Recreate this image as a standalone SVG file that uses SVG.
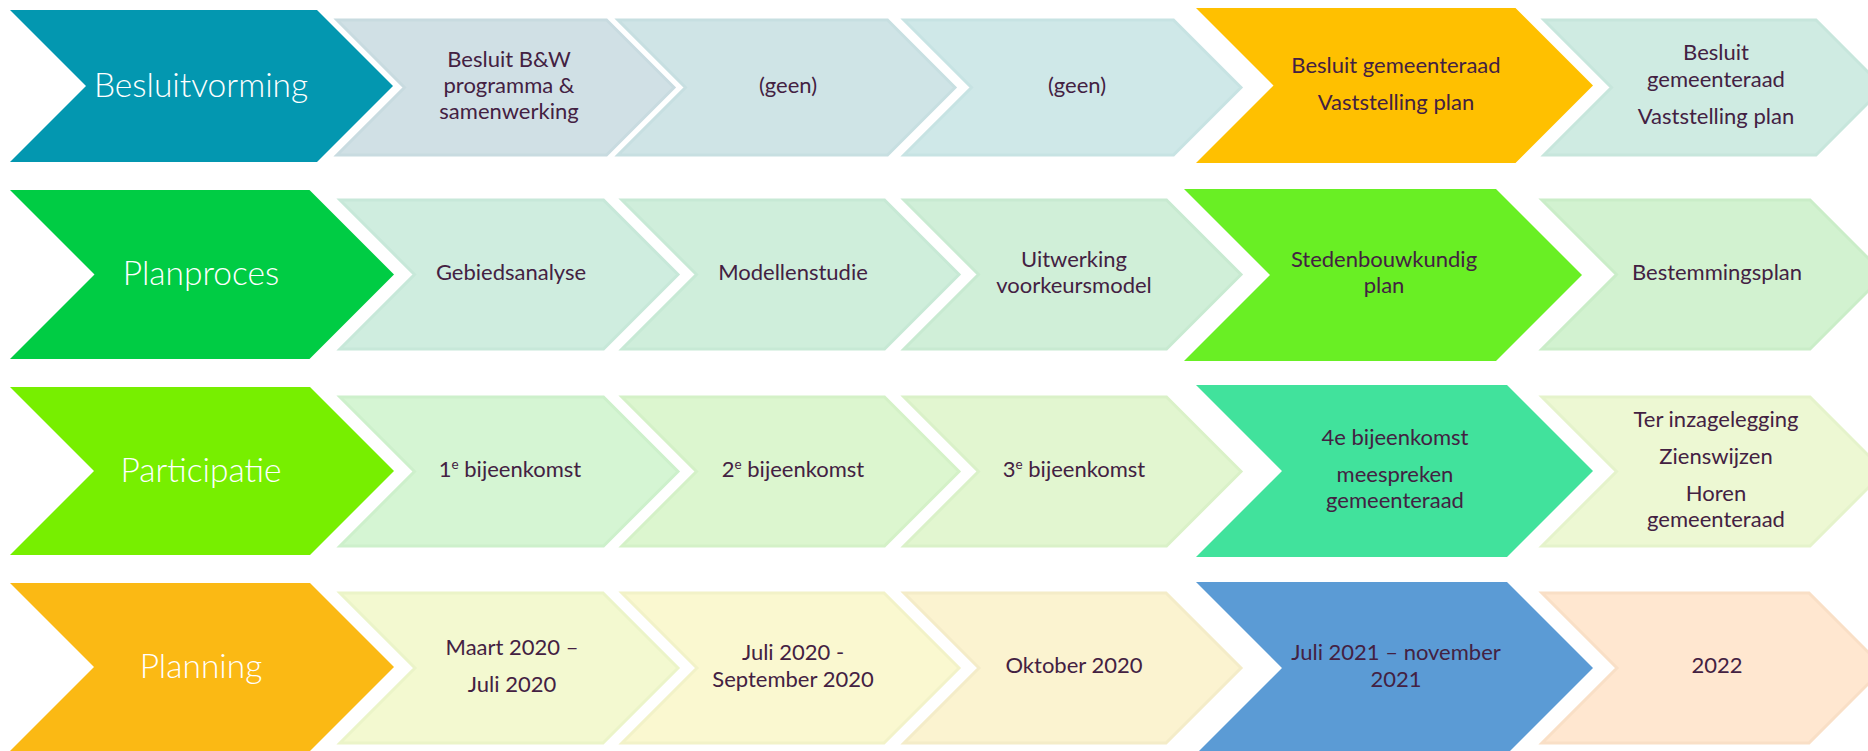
<svg xmlns="http://www.w3.org/2000/svg" width="1868" height="751" viewBox="0 0 1868 751">
<style>
.hd text{font-family:Lato,"Open Sans","Liberation Sans",sans-serif;font-weight:300;font-size:33.5px;fill:#ffffff;text-anchor:middle}
.bx text{font-family:Lato,"Open Sans","Liberation Sans",sans-serif;font-size:22px;fill:#432142;text-anchor:middle}
.bx polygon.lt{stroke-width:3;stroke-linejoin:miter}
.sup{font-size:13.5px}
</style>
<rect width="1868" height="751" fill="#ffffff"/>
<g id="connectors"/>
<!-- Row 1 -->
<g id="r1-head" class="hd"><polygon points="10,10 317,10 393,86 317,162 10,162 86,86" fill="#0397B0"/><text x="201" y="97">Besluitvorming</text></g>
<g id="r1-b2" class="bx"><polygon class="lt" points="337,20 606.5,20 674,87.5 606.5,155 337,155 404.5,87.5" fill="#D0E0E5" stroke="#C8DBE0"/><text x="509" y="67">Besluit B&amp;W</text><text x="509" y="93">programma &amp;</text><text x="509" y="119">samenwerking</text></g>
<g id="r1-b3" class="bx"><polygon class="lt" points="618,20 887.5,20 955,87.5 887.5,155 618,155 685.5,87.5" fill="#CFE4E6" stroke="#C7DFE1"/><text x="788" y="93">(geen)</text></g>
<g id="r1-b4" class="bx"><polygon class="lt" points="904,20 1173.5,20 1241,87.5 1173.5,155 904,155 971.5,87.5" fill="#CFE8E8" stroke="#C7E3E3"/><text x="1077" y="93">(geen)</text></g>
<g id="r1-b5" class="bx"><polygon points="1196,8 1515.5,8 1593,85.5 1515.5,163 1196,163 1273.5,85.5" fill="#FFC000"/><text x="1396" y="73">Besluit gemeenteraad</text><text x="1396" y="110">Vaststelling plan</text></g>
<g id="r1-b6" class="bx"><polygon class="lt" points="1544,20 1816,20 1883.5,87.5 1816,155 1544,155 1611.5,87.5" fill="#CFEBE2" stroke="#C7E6DC"/><text x="1716" y="60">Besluit</text><text x="1716" y="87">gemeenteraad</text><text x="1716" y="124">Vaststelling plan</text></g>
<!-- Row 2 -->
<g id="r2-head" class="hd"><polygon points="10,190 309.5,190 394,274.5 309.5,359 10,359 94.5,274.5" fill="#00CC44"/><text x="201" y="285">Planproces</text></g>
<g id="r2-b2" class="bx"><polygon class="lt" points="340,200 603.5,200 678,274.5 603.5,349 340,349 414.5,274.5" fill="#CFEDDF" stroke="#C7E8D9"/><text x="511" y="280">Gebiedsanalyse</text></g>
<g id="r2-b3" class="bx"><polygon class="lt" points="622,200 884.5,200 959,274.5 884.5,349 622,349 696.5,274.5" fill="#CFEEDB" stroke="#C7E9D5"/><text x="793" y="280">Modellenstudie</text></g>
<g id="r2-b4" class="bx"><polygon class="lt" points="904,200 1166.5,200 1241,274.5 1166.5,349 904,349 978.5,274.5" fill="#D0EFD8" stroke="#C8EAD1"/><text x="1074" y="267">Uitwerking</text><text x="1074" y="293">voorkeursmodel</text></g>
<g id="r2-b5" class="bx"><polygon points="1184,189 1496,189 1582,275 1496,361 1184,361 1270,275" fill="#69EF24"/><text x="1384" y="267">Stedenbouwkundig</text><text x="1384" y="293">plan</text></g>
<g id="r2-b6" class="bx"><polygon class="lt" points="1542,200 1810,200 1884.5,274.5 1810,349 1542,349 1616.5,274.5" fill="#D2F2D0" stroke="#CAEDC8"/><text x="1717" y="280">Bestemmingsplan</text></g>
<!-- Row 3 -->
<g id="r3-head" class="hd"><polygon points="10,387 310,387 394,471 310,555 10,555 94,471" fill="#77EF00"/><text x="201" y="482">Participatie</text></g>
<g id="r3-b2" class="bx"><polygon class="lt" points="340,397 603.5,397 678,471.5 603.5,546 340,546 414.5,471.5" fill="#D5F5D3" stroke="#CDF0CB"/><text x="510" y="477">1<tspan class="sup" dy="-8">e</tspan><tspan dy="8"> bijeenkomst</tspan></text></g>
<g id="r3-b3" class="bx"><polygon class="lt" points="622,397 884.5,397 959,471.5 884.5,546 622,546 696.5,471.5" fill="#DCF6CF" stroke="#D4F1C7"/><text x="793" y="477">2<tspan class="sup" dy="-8">e</tspan><tspan dy="8"> bijeenkomst</tspan></text></g>
<g id="r3-b4" class="bx"><polygon class="lt" points="904,397 1166.5,397 1241,471.5 1166.5,546 904,546 978.5,471.5" fill="#E2F6D0" stroke="#DAF1C8"/><text x="1074" y="477">3<tspan class="sup" dy="-8">e</tspan><tspan dy="8"> bijeenkomst</tspan></text></g>
<g id="r3-b5" class="bx"><polygon points="1196,385 1507,385 1593,471 1507,557 1196,557 1282,471" fill="#41E29C"/><text x="1395" y="445">4e bijeenkomst</text><text x="1395" y="482">meespreken</text><text x="1395" y="508">gemeenteraad</text></g>
<g id="r3-b6" class="bx"><polygon class="lt" points="1542,397 1810,397 1884.5,471.5 1810,546 1542,546 1616.5,471.5" fill="#EDF8D3" stroke="#E5F3CB"/><text x="1716" y="427">Ter inzagelegging</text><text x="1716" y="464">Zienswijzen</text><text x="1716" y="501">Horen</text><text x="1716" y="527">gemeenteraad</text></g>
<!-- Row 4 -->
<g id="r4-head" class="hd"><polygon points="10,583 310,583 394,667 310,751 10,751 94,667" fill="#FBB914"/><text x="201" y="678">Planning</text></g>
<g id="r4-b2" class="bx"><polygon class="lt" points="340,593 603,593 678,668 603,743 340,743 415,668" fill="#F3F9D0" stroke="#EBF4C8"/><text x="512" y="655">Maart 2020 –</text><text x="512" y="692">Juli 2020</text></g>
<g id="r4-b3" class="bx"><polygon class="lt" points="622,593 884,593 959,668 884,743 622,743 697,668" fill="#FAF8D0" stroke="#F2F2C8"/><text x="793" y="660">Juli 2020 -</text><text x="793" y="687">September 2020</text></g>
<g id="r4-b4" class="bx"><polygon class="lt" points="904,593 1166,593 1241,668 1166,743 904,743 979,668" fill="#FBF3D0" stroke="#F4ECC8"/><text x="1074" y="673">Oktober 2020</text></g>
<g id="r4-b5" class="bx"><polygon points="1196,582 1507,582 1593,668 1507,754 1196,754 1282,668" fill="#5B9BD5"/><text x="1396" y="660">Juli 2021 – november</text><text x="1396" y="687">2021</text></g>
<g id="r4-b6" class="bx"><polygon class="lt" points="1542,593 1809,593 1884,668 1809,743 1542,743 1617,668" fill="#FFE7D0" stroke="#F9DFC6"/><text x="1717" y="673">2022</text></g>
</svg>
